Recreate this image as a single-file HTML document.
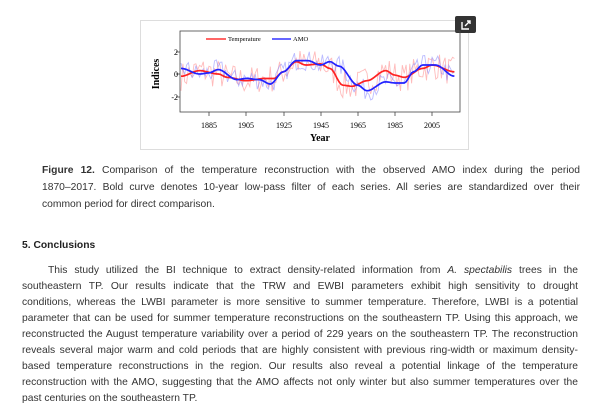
<!DOCTYPE html>
<html><head><meta charset="utf-8"><style>
html,body{margin:0;padding:0;background:#fff;}
body{width:603px;height:409px;position:relative;overflow:hidden;font-family:"Liberation Sans",Arial,sans-serif;color:#333;}
.l{position:absolute;font-size:10.3px;white-space:nowrap;text-align:justify;text-align-last:justify;line-height:12px;}
.c{left:42px;width:538px;}
.b{left:22px;width:556px;}
</style></head><body>
<div style="position:absolute;left:140px;top:20px;width:327px;height:128px;border:1px solid #ddd;"></div>
<div style="position:absolute;left:455px;top:16px;width:21px;height:17px;background:#333;border-radius:2px;"></div>
<svg style="position:absolute;left:460px;top:19px" width="12" height="12" viewBox="0 0 12 12"><path d="M2 3v7h7M5 7l5-5M7 2h3v3" fill="none" stroke="#fff" stroke-width="1.4"/></svg>
<svg id="ch" style="position:absolute;left:0;top:0" width="603" height="160" font-family="Liberation Serif,serif" font-size="8">
<rect x="180" y="31" width="280" height="81" fill="none" stroke="#444" stroke-width="0.8"/>
<g id="tk" stroke="#444" stroke-width="0.8"></g>
<text x="178" y="55" text-anchor="end">2</text><text x="178" y="77" text-anchor="end">0</text><text x="178" y="100" text-anchor="end">-2</text>
<g text-anchor="middle"><text x="209" y="128">1885</text><text x="246" y="128">1905</text><text x="284" y="128">1925</text><text x="321" y="128">1945</text><text x="358" y="128">1965</text><text x="395" y="128">1985</text><text x="432" y="128">2005</text></g>
<text x="320" y="141" text-anchor="middle" font-size="10" font-weight="bold">Year</text>
<text transform="translate(159,74) rotate(-90)" text-anchor="middle" font-size="10" font-weight="bold">Indices</text>
<g id="ln" fill="none"></g>
<line x1="206" y1="39" x2="226" y2="39" stroke="#f33" stroke-width="1.5"/><text x="228" y="41" font-size="6.5">Temperature</text>
<line x1="272" y1="39" x2="291" y2="39" stroke="#33f" stroke-width="1.5"/><text x="293" y="41" font-size="6.5">AMO</text>
</svg>
<div class="l c" style="top:165px"><b>Figure 12.</b> Comparison of the temperature reconstruction with the observed AMO index during the period</div>
<div class="l c" style="top:182px">1870–2017. Bold curve denotes 10-year low-pass filter of each series. All series are standardized over their</div>
<div class="l" style="left:42px;top:199px">common period for direct comparison.</div>
<div class="l" style="left:22px;top:240px;font-weight:bold;color:#222">5. Conclusions</div>
<div class="l" style="left:48px;width:530px;top:265px">This study utilized the BI technique to extract density-related information from <i>A. spectabilis</i> trees in the</div>
<div class="l b" style="top:281px">southeastern TP. Our results indicate that the TRW and EWBI parameters exhibit high sensitivity to drought</div>
<div class="l b" style="top:297px">conditions, whereas the LWBI parameter is more sensitive to summer temperature. Therefore, LWBI is a potential</div>
<div class="l b" style="top:313px">parameter that can be used for summer temperature reconstructions on the southeastern TP. Using this approach, we</div>
<div class="l b" style="top:329px">reconstructed the August temperature variability over a period of 229 years on the southeastern TP. The reconstruction</div>
<div class="l b" style="top:345px">reveals several major warm and cold periods that are highly consistent with previous ring-width or maximum density-</div>
<div class="l b" style="top:361px">based temperature reconstructions in the region. Our results also reveal a potential linkage of the temperature</div>
<div class="l b" style="top:377px">reconstruction with the AMO, suggesting that the AMO affects not only winter but also summer temperatures over the</div>
<div class="l" style="left:22px;top:393px">past centuries on the southeastern TP.</div>
<script>
var X=function(y){return 181+(y-1870)*1.86},Y=function(v){return 74-v*11.2};
var tk='';[209,246,284,321,358,395,432].forEach(function(x){tk+='<line x1="'+x+'" y1="112" x2="'+x+'" y2="116"/>'});
[52,74,97].forEach(function(y){tk+='<line x1="176" y1="'+y+'" x2="180" y2="'+y+'"/>'});
document.getElementById('tk').innerHTML=tk;
function interp(k,y){for(var i=0;i<k.length-1;i++){if(y<=k[i+1][0]){var t=(y-k[i][0])/(k[i+1][0]-k[i][0]);t=t*t*(3-2*t);return k[i][1]+t*(k[i+1][1]-k[i][1]);}}return k[k.length-1][1];}
var T=[[1870,-0.2],[1880,0.3],[1890,0],[1895,-0.3],[1905,-0.6],[1915,-0.4],[1920,-0.4],[1925,0.2],[1932,1.1],[1937,0.8],[1945,0.9],[1950,0.5],[1957,-1.0],[1962,-1.1],[1970,-0.6],[1980,0.3],[1985,-0.1],[1990,-0.3],[2000,0.5],[2005,0.8],[2017,0.2]];
var A=[[1870,0.5],[1880,0],[1885,0.1],[1890,0.4],[1900,-0.5],[1905,-0.4],[1912,-0.5],[1918,-0.9],[1925,0.2],[1932,1.2],[1938,1.2],[1945,0.8],[1950,1.1],[1955,0.7],[1965,-1.0],[1970,-1.5],[1980,-0.7],[1985,-0.8],[1990,-0.8],[1995,0.2],[2000,0.8],[2007,0.8],[2017,-0.2]];
var s=7;function r(){s=(s*16807)%2147483647;return s/2147483647-0.5;}
function path(k,noise){var d='';for(var y=1870;y<=2017;y++){var v=interp(k,y)+(noise?r()*noise:0);d+=(y==1870?'M':'L')+X(y).toFixed(1)+' '+Y(v).toFixed(1);}return d;}
var g='';
g+='<path d="'+path(T,2.6)+'" stroke="#f77" stroke-opacity="0.5" stroke-width="0.9"/>';
g+='<path d="'+path(A,1.8)+'" stroke="#77f" stroke-opacity="0.5" stroke-width="0.9"/>';
g+='<path d="'+path(T,0)+'" stroke="#f22" stroke-width="1.7"/>';
g+='<path d="'+path(A,0)+'" stroke="#22f" stroke-width="1.7"/>';
document.getElementById('ln').innerHTML=g;
</script>
</body></html>
